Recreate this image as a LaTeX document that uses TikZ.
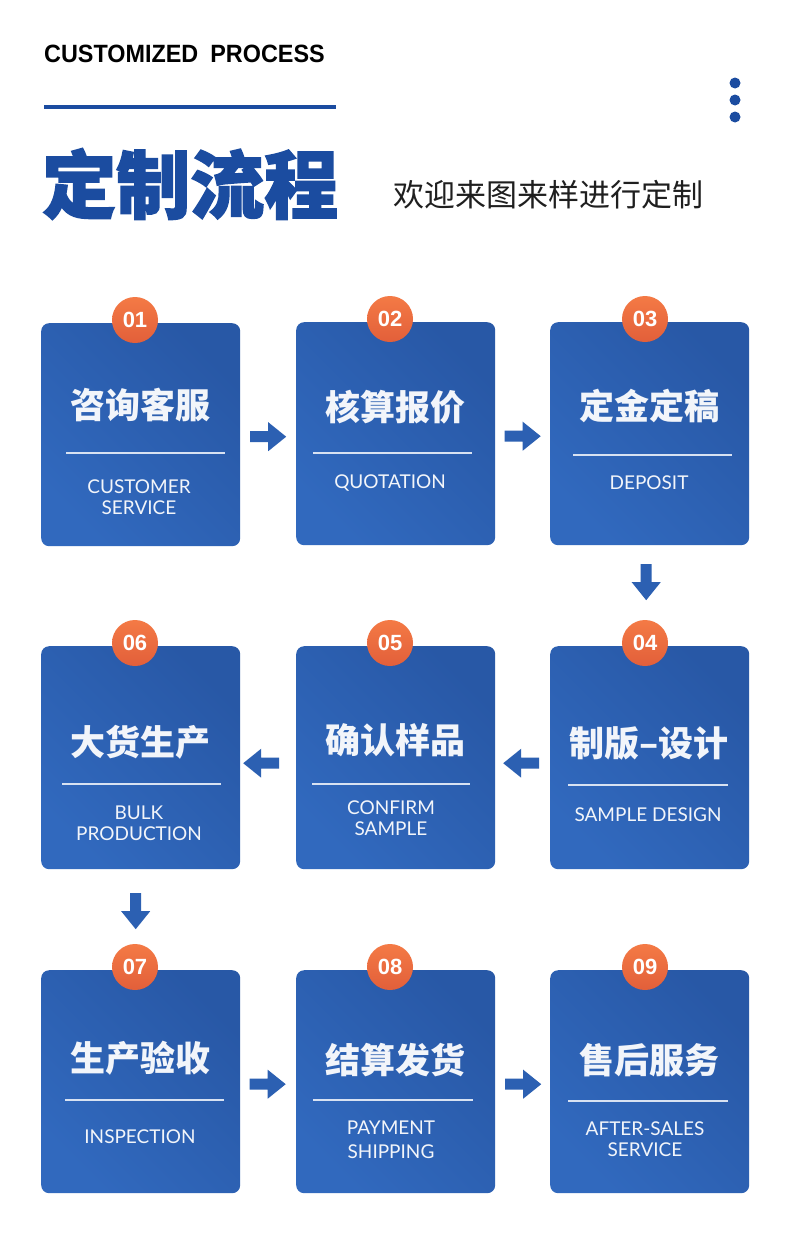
\documentclass[tikz,border=0pt]{standalone}
\usepackage{fontspec}
\usetikzlibrary{calc}
\newfontfamily\cjk{Noto Sans CJK SC}
\newfontfamily\cjkheavy{Noto Sans CJK SC}[BoldFeatures={FakeBold=2}]
\newfontfamily\latofont{Lato}
\newfontfamily\arialfont{Liberation Sans}
\definecolor{tblue}{HTML}{1B4CA0}
\definecolor{boxdark}{HTML}{2858A6}
\definecolor{boxlight}{HTML}{3169BE}
\definecolor{orgl}{HTML}{F47A45}
\definecolor{orgd}{HTML}{E25F3A}
\definecolor{arr}{HTML}{2C60B2}
\definecolor{txtw}{HTML}{F2F5FA}
\definecolor{linew}{HTML}{D8E2F2}
\begin{document}
\begin{tikzpicture}[x=1pt,y=-1pt,
  stepbox/.style={minimum width=199pt,minimum height=223pt,inner sep=0pt,rounded corners=8pt,
    top color=boxdark,bottom color=boxlight,shading angle=-45,anchor=north west},
  numc/.style={circle,minimum size=46pt,inner sep=0pt,top color=orgl,bottom color=orgd,
    text=white,font=\arialfont\bfseries\fontsize{22}{22}\selectfont},
  cntxt/.style={text=txtw,inner sep=0pt,font=\cjk\bfseries\fontsize{35}{35}\selectfont},
  entxt/.style={text=txtw,inner sep=0pt,align=center,font=\latofont\fontsize{19}{21}\selectfont},
  divline/.style={draw=linew,line width=1.3pt},
  blockarrow/.pic={\fill[arr] (-18,-5.5) -- (0,-5.5) -- (0,-14.5) -- (18,0) -- (0,14.5) -- (0,5.5) -- (-18,5.5) -- cycle;}
]
\useasboundingbox (0,0) rectangle (790,1239);
\fill[white] (0,0) rectangle (790,1239);

% header
\node[anchor=west,inner sep=0pt] (hdr) at (44,54)
  {\scalebox{0.935}[1]{\arialfont\bfseries\fontsize{25}{25}\selectfont CUSTOMIZED\hspace{6pt} PROCESS}};
\fill[tblue] (44,105) rectangle (336,109);
\foreach \yy in {83,100,117} \fill[tblue] (735,\yy) circle (5.5);
\node[anchor=west,inner sep=0pt,text=tblue] (ttl) at (42,184)
  {\cjkheavy\bfseries\fontsize{74}{74}\selectfont 定制流程};
\node[anchor=west,inner sep=0pt,text=black!88] (sub) at (393,195)
  {\cjk\fontsize{31}{31}\selectfont 欢迎来图来样进行定制};

% boxes
\node[stepbox] (b1) at (41,323) {};
\node[stepbox] (b2) at (296,322) {};
\node[stepbox] (b3) at (550,322) {};
\node[stepbox] (b6) at (41,646) {};
\node[stepbox] (b5) at (296,646) {};
\node[stepbox] (b4) at (550,646) {};
\node[stepbox] (b7) at (41,970) {};
\node[stepbox] (b8) at (296,970) {};
\node[stepbox] (b9) at (550,970) {};

% number circles
\node[numc] (n1) at (135,320) {01};
\node[numc] (n2) at (390,319) {02};
\node[numc] (n3) at (645,319) {03};
\node[numc] (n6) at (135,643) {06};
\node[numc] (n5) at (390,643) {05};
\node[numc] (n4) at (645,643) {04};
\node[numc] (n7) at (135,967) {07};
\node[numc] (n8) at (390,967) {08};
\node[numc] (n9) at (645,967) {09};

% chinese titles
\node[cntxt] (c1) at (140.5,405) {咨询客服};
\node[cntxt] (c2) at (395.5,407) {核算报价};
\node[cntxt] (c3) at (649.5,406) {定金定稿};
\node[cntxt] (c6) at (140.5,742) {大货生产};
\node[cntxt] (c5) at (395.5,740) {确认样品};
\node[cntxt] (c4) at (649,743) {制版–设计};
\node[cntxt] (c7) at (140.5,1058) {生产验收};
\node[cntxt] (c8) at (395.5,1060) {结算发货};
\node[cntxt] (c9) at (649.5,1060) {售后服务};

% divider lines
\draw[divline] (66,453) -- (225,453);
\draw[divline] (313,453) -- (472,453);
\draw[divline] (573,455) -- (732,455);
\draw[divline] (62,784) -- (221,784);
\draw[divline] (312,784) -- (470,784);
\draw[divline] (568,785) -- (728,785);
\draw[divline] (65,1100) -- (224,1100);
\draw[divline] (313,1100) -- (473,1100);
\draw[divline] (568,1101) -- (728,1101);

% english labels
\node[entxt] (e1) at (139,497) {CUSTOMER\\SERVICE};
\node[entxt] (e2) at (390,483) {QUOTATION};
\node[entxt] (e3) at (649,483) {DEPOSIT};
\node[entxt] (e6) at (139,823) {BULK\\PRODUCTION};
\node[entxt] (e5) at (391,818) {CONFIRM\\SAMPLE};
\node[entxt] (e4) at (648,815) {SAMPLE DESIGN};
\node[entxt] (e7) at (140,1137) {INSPECTION};
\node[entxt,font=\latofont\fontsize{19}{24}\selectfont] (e8) at (391,1140) {PAYMENT\\SHIPPING};
\node[entxt] (e9) at (645,1139) {AFTER-SALES\\SERVICE};

% connectors (block arrows)
\pic at ($(b1.east)!0.5!(b2.west)+(0,2.5)$) {blockarrow};
\pic at ($(b2.east)!0.5!(b3.west)+(0,2.5)$) {blockarrow};
\pic[rotate=-90] at ($(b3.south)!0.5!(b4.north)+(-3.5,-13.5)$) {blockarrow};
\pic[rotate=180] at ($(b4.west)!0.5!(b5.east)+(-1.5,5.5)$) {blockarrow};
\pic[rotate=180] at ($(b5.west)!0.5!(b6.east)+(-7,5.5)$) {blockarrow};
\pic[rotate=-90] at ($(b6.south)!0.5!(b7.north)+(-5,-8.5)$) {blockarrow};
\pic at ($(b7.east)!0.5!(b8.west)+(-0.5,2.5)$) {blockarrow};
\pic at ($(b8.east)!0.5!(b9.west)+(0.5,2.5)$) {blockarrow};
\end{tikzpicture}
\end{document}
